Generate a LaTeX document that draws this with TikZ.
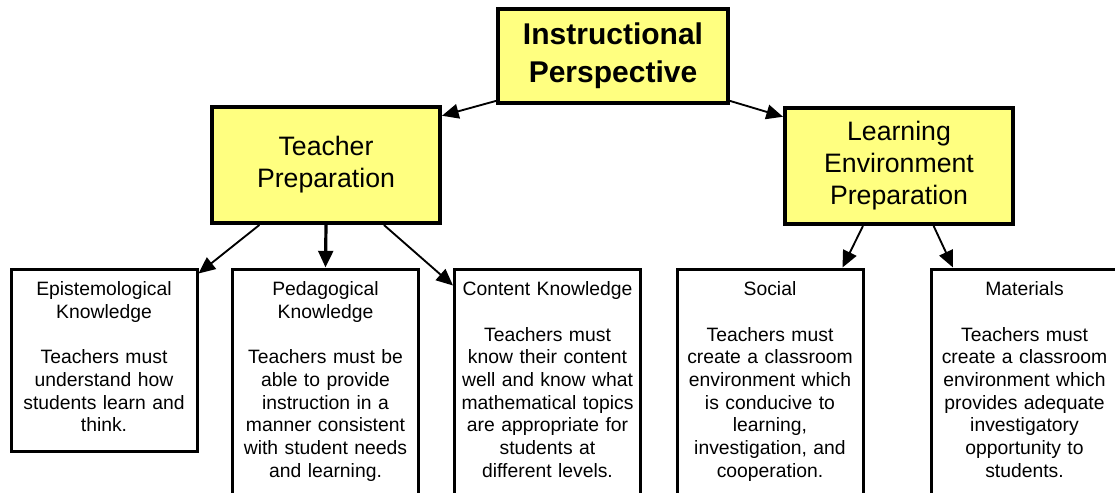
\documentclass[tikz,border=0pt]{standalone}
\usepackage{fontspec}
\setmainfont{Liberation Sans}
\usetikzlibrary{arrows.meta,calc}
\definecolor{boxyellow}{RGB}{255,255,128}

\tikzset{
  headbox/.style={draw, line width=3pt, fill=boxyellow, align=center, minimum width=172.5pt, minimum height=70.5pt, font=\fontsize{22.5}{28.5}\selectfont\bfseries},
  prepbox/.style={draw, line width=3pt, fill=boxyellow, align=center, minimum width=171pt, minimum height=87pt, font=\fontsize{20}{24}\selectfont},
  leafbox/.style={draw, line width=2.25pt, anchor=north, text width=136pt, align=center, inner xsep=1pt, inner ysep=9.5pt, minimum width=139.5pt, text depth=250pt, font=\fontsize{14.5}{17}\selectfont},
  link/.style={-{Triangle[length=12.5pt,width=11pt]}, line width=1.4pt},
}

\begin{document}
\begin{tikzpicture}[x=0.75pt,y=0.75pt,yscale=-1]
\useasboundingbox (0,0) rectangle (1115,493);
\clip (0,0) rectangle (1115,493);

% top box
\node[headbox] (ip) at (613,56) {Instructional\\Perspective};

% second row
\node[prepbox] (tp) at (326,165) {Teacher\\Preparation};
\node[prepbox] (le) at (899,166) {Learning\\Environment\\Preparation};

% bottom row
\node[leafbox, text depth=107pt] (ek) at (104,267.5) {Epistemological\\Knowledge\\[17pt]Teachers must\\understand how\\students learn and\\think.};
\node[leafbox] (pk) at (325.5,267.5) {Pedagogical\\Knowledge\\[17pt]Teachers must be\\able to provide\\instruction in a\\manner consistent\\with student needs\\and learning.};
\node[leafbox] (ck) at (547.5,267.5) {Content Knowledge\\[17pt]Teachers must\\know their content\\well and know what\\mathematical topics\\are appropriate for\\students at\\different levels.};
\node[leafbox] (so) at (770,267.5) {Social\\[17pt]Teachers must\\create a classroom\\environment which\\is conducive to\\learning,\\investigation, and\\cooperation.};
\node[leafbox] (ma) at (1024.5,267.5) {Materials\\[17pt]Teachers must\\create a classroom\\environment which\\provides adequate\\investigatory\\opportunity to\\students.};

% arrows
\draw[link] (ip.201) -- (tp.23);
\draw[link] (ip.-21) -- (le.157);
\draw[link] (tp.222) -- ($(ek.north east)+(0,6)$);
\draw[link, line width=2.4pt] (tp.south) -- (pk.north);
\draw[link] (tp.-46) -- ($(ck.north west)+(0,18)$);
\draw[link] (le.239) -- ($(so.north east)+(-22,0)$);
\draw[link] (le.-60) -- ($(ma.north west)+(23,0)$);

\end{tikzpicture}
\end{document}
